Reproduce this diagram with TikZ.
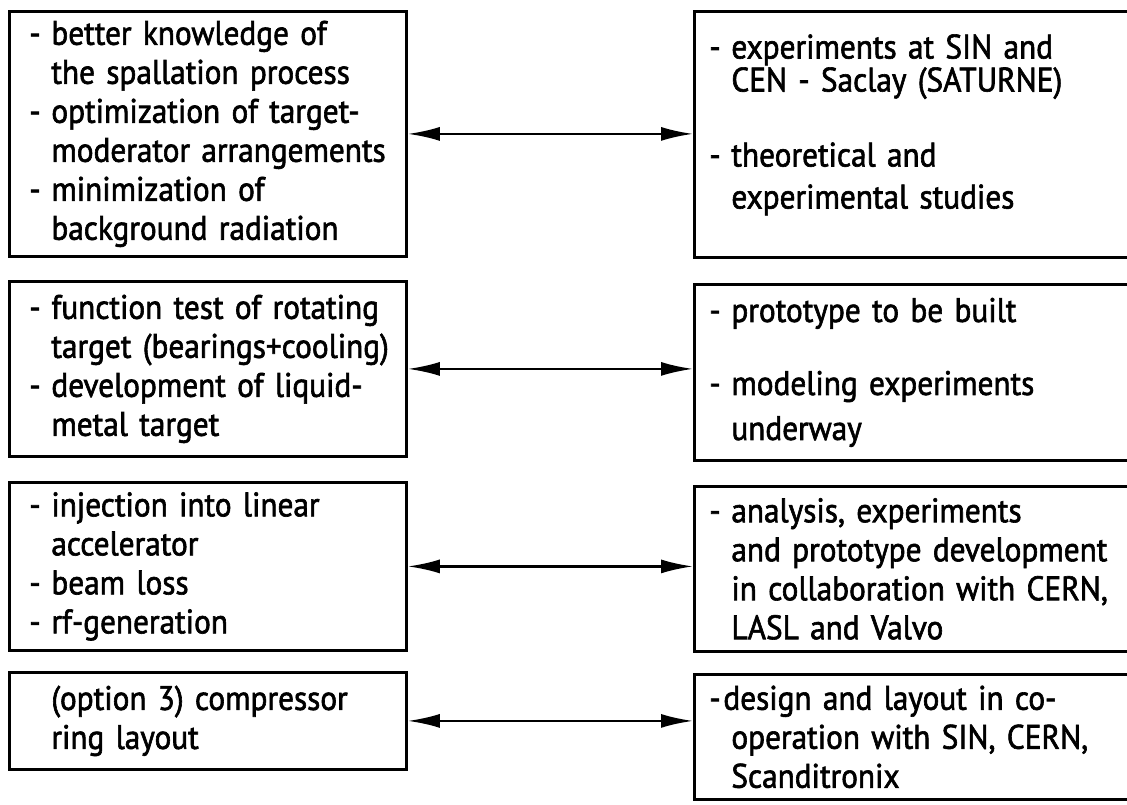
\documentclass[tikz,border=0pt]{standalone}
\usepackage{fontspec}
\setmainfont{PT Sans}[FakeStretch=0.92,FakeBold=1.8]
\usetikzlibrary{arrows.meta,positioning}
\newlength{\lpad}
\newcommand{\dsh}{\hspace*{\lpad}\makebox[11pt][l]{-}}
\newcommand{\ind}{\hspace*{\dimexpr\lpad+11pt\relax}}

\begin{document}
\begin{tikzpicture}[x=0.5pt,y=-0.5pt,
    plan/.style={draw,line width=1.4pt,rectangle,anchor=north west,align=left,
      inner xsep=4pt,inner ysep=0pt,font=\fontsize{17}{19.5}\selectfont},
    lbox/.style={plan,minimum width=198.5pt,text width=190.5pt,
      execute at begin node={\setlength{\lpad}{6pt}}},
    rbox/.style={plan,minimum width=223.5pt,text width=215.5pt,
      execute at begin node={\setlength{\lpad}{3.5pt}}},
    link/.style={line width=1.2pt,{Latex[length=16pt,width=7pt]}-{Latex[length=16pt,width=7pt]}}]
    \useasboundingbox (0,0) rectangle (1127,804);
    \clip (0,0) rectangle (1127,804);

    % Left column: tasks
    \node[lbox,minimum height=122.5pt] (L1) at (8,10)
      {\dsh better knowledge of\\ \ind the spallation process\\
       \dsh optimization of target-\\ \ind moderator arrangements\\
       \dsh minimization of\\ \ind background radiation};
    \node[lbox,minimum height=87.5pt] (L2) at (8,280)
      {\dsh function test of rotating\\ \ind target (bearings+cooling)\\
       \dsh development of liquid-\\ \ind metal target};
    \node[lbox,minimum height=84pt] (L3) at (8,481)
      {\dsh injection into linear\\ \ind accelerator\\
       \dsh beam loss\\ \dsh rf-generation};
    \node[lbox,minimum height=48.5pt] (L4) at (8,671)
      {\ind (option 3) compressor\\ \ind ring layout};

    % Right column: status
    \node[rbox,minimum height=123pt] (R1) at (693,10)
      {\dsh experiments at SIN and\\[-3pt] \ind CEN - Saclay (SATURNE)\\[18pt]
       \dsh theoretical and\\[1.5pt] \ind experimental studies\\[-6.5pt]\mbox{}};
    \node[rbox,minimum height=88pt] (R2) at (693,283)
      {\dsh prototype to be built\\[17pt]
       \dsh modeling experiments\\[3pt] \ind underway};
    \node[rbox,minimum height=82.5pt] (R3) at (693,485)
      {\dsh analysis, experiments\\ \ind and prototype development\\
       \ind in collaboration with CERN,\\ \ind LASL and Valvo};
    \node[rbox,minimum height=62.5pt] (R4) at (693,673)
      {\hspace*{\lpad}\makebox[7pt][l]{-}design and layout in co-\\
       \ind operation with SIN, CERN,\\ \ind Scanditronix};

    % Links
    \draw[link] (L1.east) -- (L1.east -| R1.west);
    \draw[link] (L2.east) -- (L2.east -| R2.west);
    \draw[link] (L3.east) -- (L3.east -| R3.west);
    \draw[link] (L4.east) -- (L4.east -| R4.west);
\end{tikzpicture}
\end{document}
